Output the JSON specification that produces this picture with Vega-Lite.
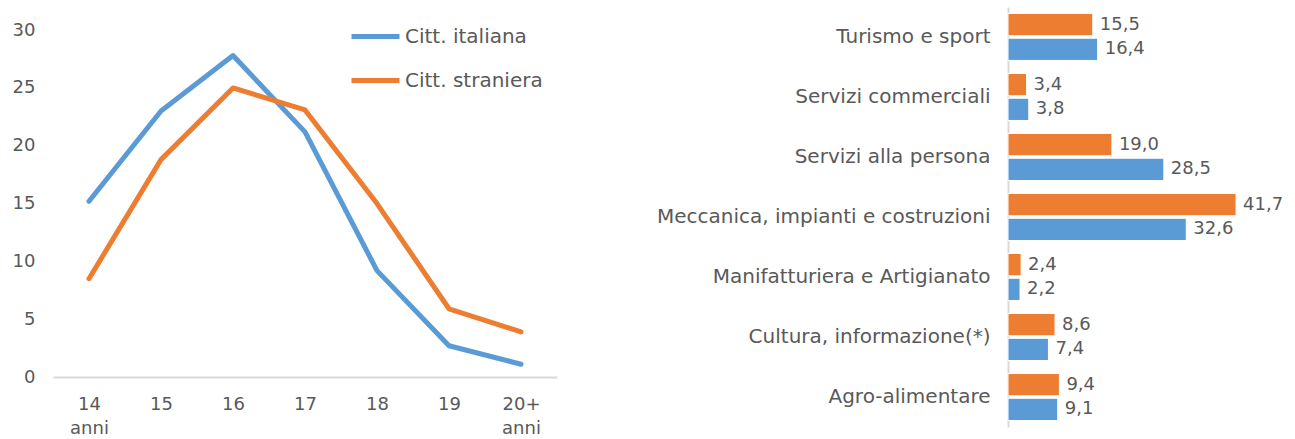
{
  "$schema": "https://vega.github.io/schema/vega-lite/v6.json",
  "padding": {"left": 12, "top": 7, "right": 0, "bottom": 0},
  "background": "white",
  "spacing": 451,
  "bounds": "flush",
  "config": {
    "font": "DejaVu Sans",
    "view": {"stroke": null},
    "locale": {"number": {"decimal": ",", "thousands": ".", "grouping": [3], "currency": ["", " €"]}},
    "axis": {"labelColor": "#595959", "labelFontSize": 18, "grid": false, "ticks": false, "title": null}
  },
  "datasets": {
    "age": [
      {"age": "14 anni", "series": "Citt. italiana", "value": 15.2},
      {"age": "15", "series": "Citt. italiana", "value": 23.0},
      {"age": "16", "series": "Citt. italiana", "value": 27.8},
      {"age": "17", "series": "Citt. italiana", "value": 21.2},
      {"age": "18", "series": "Citt. italiana", "value": 9.2},
      {"age": "19", "series": "Citt. italiana", "value": 2.7},
      {"age": "20+ anni", "series": "Citt. italiana", "value": 1.1},
      {"age": "14 anni", "series": "Citt. straniera", "value": 8.5},
      {"age": "15", "series": "Citt. straniera", "value": 18.8},
      {"age": "16", "series": "Citt. straniera", "value": 25.0},
      {"age": "17", "series": "Citt. straniera", "value": 23.1},
      {"age": "18", "series": "Citt. straniera", "value": 15.0},
      {"age": "19", "series": "Citt. straniera", "value": 5.9},
      {"age": "20+ anni", "series": "Citt. straniera", "value": 3.9}
    ],
    "sectors": [
      {"sector": "Turismo e sport", "series": "Citt. straniera", "value": 15.5},
      {"sector": "Turismo e sport", "series": "Citt. italiana", "value": 16.4},
      {"sector": "Servizi commerciali", "series": "Citt. straniera", "value": 3.4},
      {"sector": "Servizi commerciali", "series": "Citt. italiana", "value": 3.8},
      {"sector": "Servizi alla persona", "series": "Citt. straniera", "value": 19.0},
      {"sector": "Servizi alla persona", "series": "Citt. italiana", "value": 28.5},
      {"sector": "Meccanica, impianti e costruzioni", "series": "Citt. straniera", "value": 41.7},
      {"sector": "Meccanica, impianti e costruzioni", "series": "Citt. italiana", "value": 32.6},
      {"sector": "Manifatturiera e Artigianato", "series": "Citt. straniera", "value": 2.4},
      {"sector": "Manifatturiera e Artigianato", "series": "Citt. italiana", "value": 2.2},
      {"sector": "Cultura, informazione(*)", "series": "Citt. straniera", "value": 8.6},
      {"sector": "Cultura, informazione(*)", "series": "Citt. italiana", "value": 7.4},
      {"sector": "Agro-alimentare", "series": "Citt. straniera", "value": 9.4},
      {"sector": "Agro-alimentare", "series": "Citt. italiana", "value": 9.1}
    ]
  },
  "resolve": {"scale": {"color": "independent"}, "legend": {"color": "independent"}},
  "hconcat": [
    {
      "width": 504,
      "height": 370,
      "data": {"name": "age"},
      "mark": {"type": "line", "strokeWidth": 5, "strokeCap": "round", "strokeJoin": "round"},
      "encoding": {
        "x": {
          "field": "age", "type": "ordinal", "sort": null,
          "axis": {"labelExpr": "split(datum.label, ' ')", "labelAngle": 0, "domainColor": "#D9D9D9", "domainWidth": 2, "labelPadding": 18, "labelLineHeight": 24}
        },
        "y": {
          "field": "value", "type": "quantitative",
          "scale": {"domain": [0, 32], "nice": false},
          "axis": {"values": [0, 5, 10, 15, 20, 25, 30], "domain": false, "labelPadding": 18}
        },
        "color": {
          "field": "series", "type": "nominal", "sort": ["Citt. italiana", "Citt. straniera"],
          "scale": {"range": ["#5B9BD5", "#ED7D31"]},
          "legend": {"title": null, "orient": "none", "legendX": 296, "legendY": 3, "symbolType": "stroke", "symbolStrokeWidth": 5, "symbolSize": 2304, "labelFontSize": 20, "labelColor": "#595959", "labelOffset": 3, "rowPadding": 7}
        }
      }
    },
    {
      "width": 286,
      "height": 420,
      "data": {"name": "sectors"},
      "encoding": {
        "y": {
          "field": "sector", "type": "nominal", "sort": null,
          "scale": {"paddingInner": 0.217, "paddingOuter": 0.108},
          "axis": {"domainColor": "#D9D9D9", "domainWidth": 2, "labelPadding": 18, "labelLimit": 600, "labelFontSize": 20}
        },
        "yOffset": {"field": "series", "type": "nominal", "sort": ["Citt. straniera", "Citt. italiana"], "scale": {"paddingInner": 0.1}},
        "x": {"field": "value", "type": "quantitative", "scale": {"domain": [0, 52.3], "nice": false}, "axis": null}
      },
      "layer": [
        {
          "mark": {"type": "bar", "stroke": "white", "strokeWidth": 1},
          "encoding": {
            "color": {"field": "series", "type": "nominal", "scale": {"domain": ["Citt. italiana", "Citt. straniera"], "range": ["#5B9BD5", "#ED7D31"]}, "legend": null}
          }
        },
        {
          "mark": {"type": "text", "align": "left", "baseline": "middle", "dx": 7, "fontSize": 18, "color": "#595959"},
          "encoding": {"text": {"field": "value", "type": "quantitative", "format": ".1f"}}
        }
      ]
    }
  ]
}
